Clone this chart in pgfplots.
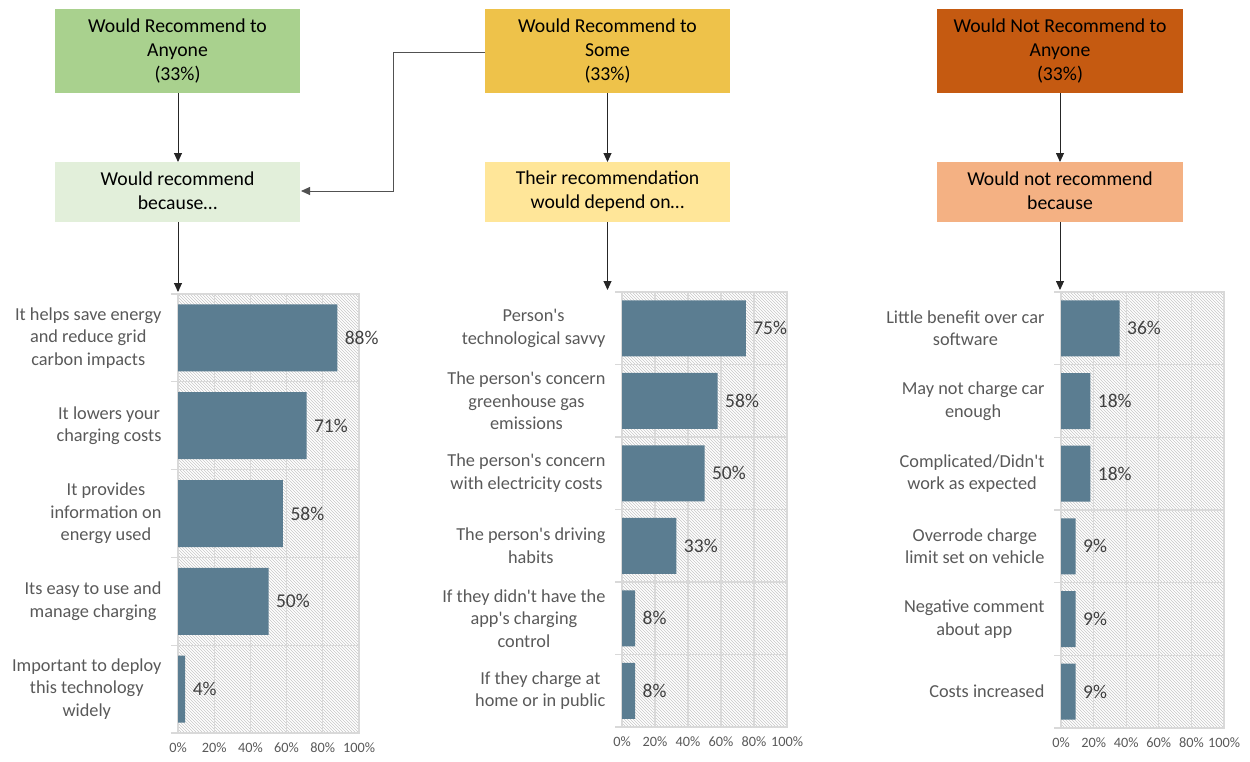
\documentclass[border=0pt]{standalone}
\usepackage{fontspec}
\setmainfont{Carlito}[Ligatures=TeXOff]
\usepackage{pgfplots}
\pgfplotsset{compat=1.18}
\usetikzlibrary{patterns,arrows.meta}

\definecolor{barc}{HTML}{5B7D91}
\definecolor{gridc}{HTML}{D9D9D9}
\definecolor{hatchc}{HTML}{C8C8C8}
\definecolor{tickc}{HTML}{595959}
\definecolor{labelc}{HTML}{595959}
\definecolor{valc}{HTML}{404040}
\definecolor{gA}{HTML}{A9D18E}
\definecolor{gB}{HTML}{E2EFDA}
\definecolor{yA}{HTML}{EEC24A}
\definecolor{yB}{HTML}{FFE699}
\definecolor{oA}{HTML}{C55A11}
\definecolor{oB}{HTML}{F4B183}
\definecolor{arrc}{HTML}{262626}

\newcommand\boxfont{\fontsize{19.7pt}{24pt}\selectfont}
\newcommand\catfont{\fontsize{18.3pt}{22.5pt}\selectfont}
\newcommand\valfont{\fontsize{19.5pt}{22pt}\selectfont}
\newcommand\tickfont{\fontsize{14.3pt}{16pt}\selectfont}

\pgfplotsset{panel/.style={
  xbar, scale only axis, anchor=north west,
  /pgf/number format/assume math mode=true,
  xmin=0, xmax=100, y dir=reverse,
  axis background/.style={fill=white, postaction={pattern=north west lines, pattern color=hatchc}},
  axis line style={draw=gridc, line width=1.2pt},
  xtick={0,20,...,100}, xticklabel={\pgfmathprintnumber{\tick}\%},
  xticklabel style={font=\tickfont, text=tickc, yshift=-6pt},
  xmajorgrids, major grid style={draw=gridc, line width=1.2pt},
  yminorgrids, minor grid style={draw=gridc, line width=1.2pt},
  major tick length=0pt, minor tick length=7pt, tick align=outside, tick pos=left,
  minor tick style={draw=gridc, line width=1.2pt},
  yticklabel style={align=center, font=\catfont, text=labelc, xshift=-13pt},
  nodes near coords={\pgfmathprintnumber{\pgfplotspointmeta}\%},
  nodes near coords style={font=\valfont, text=valc, anchor=west, xshift=4pt},
  point meta=explicit,
  clip=false,
}}

\begin{document}
\begin{tikzpicture}
\begin{scope}[x=1pt,y=-1pt]
\useasboundingbox (0,0) rectangle (1250,761);
% top boxes
\fill[gA] (55,9) rectangle (300,93);
\node[align=center,font=\boxfont] at (177.5,51) {Would Recommend to\\Anyone\\(33\%)};
\fill[yA] (485,9) rectangle (730,93);
\node[align=center,font=\boxfont] at (607.5,51) {Would Recommend to\\Some\\(33\%)};
\fill[oA] (937,9) rectangle (1183,93);
\node[align=center,font=\boxfont] at (1060,51) {Would Not Recommend to\\Anyone\\(33\%)};
% second boxes
\fill[gB] (55,162) rectangle (300,222);
\node[align=center,font=\boxfont] at (177.5,191) {Would recommend\\because\ldots};
\fill[yB] (485,162) rectangle (730,222);
\node[align=center,font=\boxfont] at (607.5,191) {Their recommendation\\would depend on\ldots};
\fill[oB] (937,162) rectangle (1183,222);
\node[align=center,font=\boxfont] at (1060,191) {Would not recommend\\because};
% arrows
\begin{scope}[draw=arrc, line width=0.9pt, -{Triangle[width=8pt,length=9pt]}]
\draw (178,93) -- (178,162);
\draw (607.5,93) -- (607.5,162);
\draw (1060,93) -- (1060,162);
\draw (178,222) -- (178,292);
\draw (607.5,222) -- (607.5,290);
\draw (1060,222) -- (1060,290);
\draw[draw=arrc!80] (485,52) -- (393,52) -- (393,191) -- (301,191);
\end{scope}
\end{scope}

% panel 1
\begin{axis}[panel, at={(178pt,-294pt)}, width=181pt, height=439pt,
  ymin=0.5, ymax=5.5, ytick={1,...,5}, minor ytick={0.5,1.5,...,5.5},
  bar width=67pt,
  yticklabels={{It helps save energy\\and reduce grid\\carbon impacts},
    {It lowers your\\charging costs},
    {It provides\\information on\\energy used},
    {Its easy to use and\\manage charging},
    {Important to deploy\\this technology\\widely}}]
\addplot[fill=barc, draw=none] coordinates {(88,1) [88] (71,2) [71] (58,3) [58] (50,4) [50] (4,5) [4]};
\end{axis}

% panel 2
\begin{axis}[panel, at={(622pt,-292pt)}, width=165pt, height=435pt,
  ymin=0.5, ymax=6.5, ytick={1,...,6}, minor ytick={0.5,1.5,...,6.5},
  bar width=56pt,
  yticklabels={{Person's\\technological savvy},
    {The person's concern\\greenhouse gas\\emissions},
    {The person's concern\\with electricity costs},
    {The person's driving\\habits},
    {If they didn't have the\\app's charging\\control},
    {If they charge at\\home or in public}}]
\addplot[fill=barc, draw=none] coordinates {(75,1) [75] (58,2) [58] (50,3) [50] (33,4) [33] (8,5) [8] (8,6) [8]};
\end{axis}

% panel 3
\begin{axis}[panel, at={(1061pt,-292pt)}, width=163pt, height=436pt,
  ymin=0.5, ymax=6.5, ytick={1,...,6}, minor ytick={0.5,1.5,...,6.5},
  bar width=56pt,
  yticklabels={{Little benefit over car\\software},
    {May not charge car\\enough},
    {Complicated/Didn't\\work as expected},
    {Overrode charge\\limit set on vehicle},
    {Negative comment\\about app},
    {Costs increased}}]
\addplot[fill=barc, draw=none] coordinates {(36,1) [36] (18,2) [18] (18,3) [18] (9,4) [9] (9,5) [9] (9,6) [9]};
\end{axis}
\end{tikzpicture}
\end{document}
